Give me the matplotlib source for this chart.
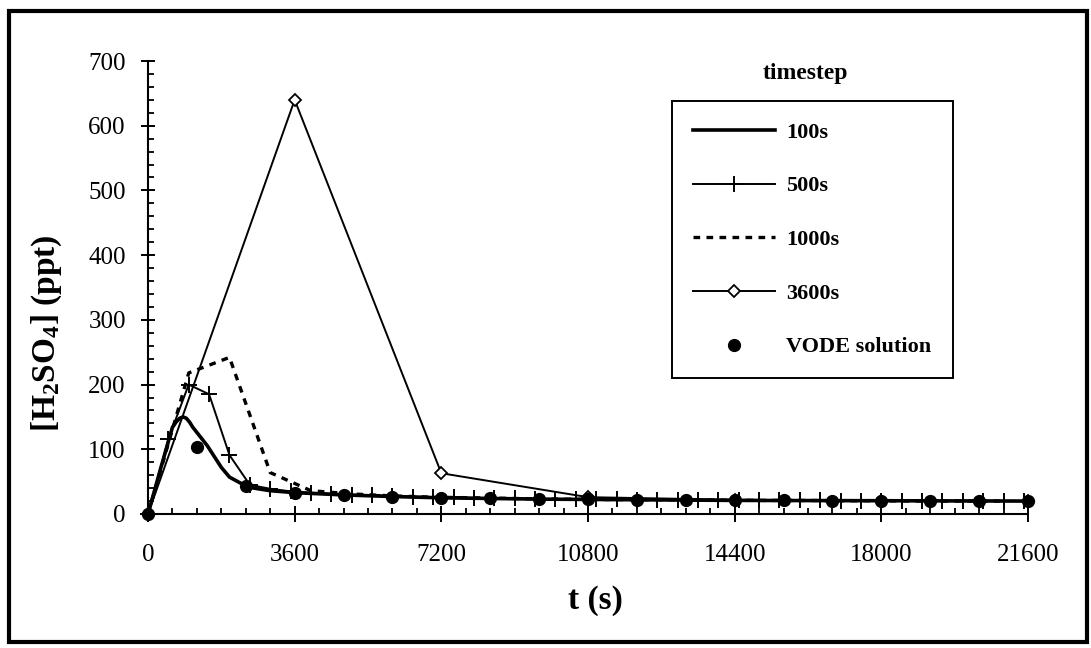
import matplotlib
matplotlib.use("Agg")
import matplotlib.pyplot as plt
from matplotlib.patches import Rectangle
from matplotlib.ticker import MultipleLocator

plt.rcParams['font.family'] = ['Liberation Serif', 'DejaVu Serif']
plt.rcParams['mathtext.fontset'] = 'custom'
plt.rcParams['mathtext.rm'] = 'Liberation Serif:bold'
plt.rcParams['mathtext.default'] = 'rm'

# --- data -------------------------------------------------------------
# 100 s timestep (smooth curve, sampled)
t_100 = [0, 300, 600, 700, 780, 860, 940, 1020, 1100, 1250, 1450, 1800,
         2000, 2350, 2600, 3000, 3600, 4800, 6000, 7200, 9600, 12000,
         14400, 18000, 21600]
c_100 = [0, 68, 134, 143, 148, 150, 148, 142, 134, 122, 106, 72,
         57, 45, 40, 36, 33, 29.5, 27, 25, 23, 22, 21, 20.5, 20]

# 500 s timestep
t_500 = list(range(0, 21501, 500))
c_500 = [0, 116, 200, 185, 91, 45, 39, 35, 33, 31.5, 30, 29, 28, 27, 26,
         25.5, 25, 24.5, 24, 23.5, 23, 23, 22.5, 22.5, 22, 22, 22, 21.5,
         21.5, 21.5, 21, 21, 21, 21, 20.5, 20.5, 20.5, 20.5, 20, 20, 20,
         20, 20, 20]

# 1000 s timestep
t_1000 = list(range(0, 21001, 1000))
c_1000 = [0, 218, 242, 64, 36, 31, 28, 26, 25, 24, 23, 22.5, 22, 22,
          21.5, 21, 21, 20.5, 20.5, 20, 20, 20]

# 3600 s timestep
t_3600 = [0, 3600, 7200, 10800, 14400, 18000, 21600]
c_3600 = [0, 640, 63, 26, 22, 20.5, 20]

# VODE reference solution
t_vode = list(range(0, 21601, 1200))
c_vode = [0, 103, 43, 32, 29.5, 27, 25, 24, 23, 22.5, 22, 21.5, 21, 21,
          20.5, 20.5, 20.5, 20.5, 20.5]

x_ticks = [0, 3600, 7200, 10800, 14400, 18000, 21600]
y_ticks = [0, 100, 200, 300, 400, 500, 600, 700]

series_labels = ['100s', '500s', '1000s', '3600s', 'VODE solution']

# --- figure -------------------------------------------------------------
W, H = 1091, 648
fig = plt.figure(figsize=(W / 100, H / 100), dpi=100)
ax = fig.add_axes([148 / W, 1 - 514 / H, 880 / W, 453 / H])

l3600, = ax.plot(t_3600, c_3600, color='black', lw=1.4, marker='D',
                 markersize=6.5, markerfacecolor='white',
                 markeredgecolor='black', markeredgewidth=1.3, zorder=2)
l1000, = ax.plot(t_1000, c_1000, color='black', lw=2.4,
                 dashes=(2.0, 1.9), zorder=3)
l500, = ax.plot(t_500, c_500, color='black', lw=1.4, marker='+',
                markersize=11, markeredgewidth=1.4, zorder=4)
l100, = ax.plot(t_100, c_100, color='black', lw=2.6, zorder=5,
                solid_joinstyle='round')
lvode, = ax.plot(t_vode, c_vode, linestyle='none', marker='o',
                 markersize=8.5, color='black', zorder=6, clip_on=False)
for ln in (l3600, l1000, l500, l100):
    ln.set_clip_on(False)

ax.set_xlim(0, 21600)
ax.set_ylim(0, 700)
ax.set_xticks(x_ticks)
ax.set_yticks(y_ticks)
ax.xaxis.set_minor_locator(MultipleLocator(600))
ax.yaxis.set_minor_locator(MultipleLocator(20))

for side in ('top', 'right'):
    ax.spines[side].set_visible(False)
for side in ('left', 'bottom'):
    ax.spines[side].set_linewidth(1.5)

ax.tick_params(axis='y', which='major', direction='inout', length=10,
               width=1.4, labelsize=18, pad=11)
ax.tick_params(axis='x', which='major', direction='inout', length=11,
               width=1.4, labelsize=18, pad=16)
ax.tick_params(axis='both', which='minor', direction='in', length=4,
               width=1.3)

ax.set_ylabel('[H$_2$SO$_4$] (ppt)', fontsize=24, fontweight='bold')
ax.yaxis.label.set_va('center')
ax.yaxis.set_label_coords(-0.115, 0.40)
ax.set_xlabel('t (s)', fontsize=24, fontweight='bold')
ax.xaxis.label.set_va('center')
ax.xaxis.set_label_coords(0.508, -0.19)

# legend
leg = fig.legend([l100, l500, l1000, l3600, lvode], series_labels,
                 loc='upper left', bbox_to_anchor=(672 / W, 1 - 101 / H),
                 borderaxespad=0, numpoints=1, handlelength=3.7,
                 handletextpad=0.5, borderpad=0.95, labelspacing=1.49,
                 fancybox=False, framealpha=1, edgecolor='black',
                 prop={'family': 'Liberation Serif', 'weight': 'bold',
                       'size': 16})
leg.get_frame().set_linewidth(1.4)
fig.text(805 / W, 1 - 73 / H, 'timestep', ha='center', va='center',
         fontsize=17, fontweight='bold')

# outer frame around the whole figure
fig.patches.append(Rectangle((9 / W, 1 - 642 / H), 1078 / W, 631 / H,
                             transform=fig.transFigure, fill=False,
                             edgecolor='black', linewidth=3))

fig.savefig('out.png', dpi=100)
